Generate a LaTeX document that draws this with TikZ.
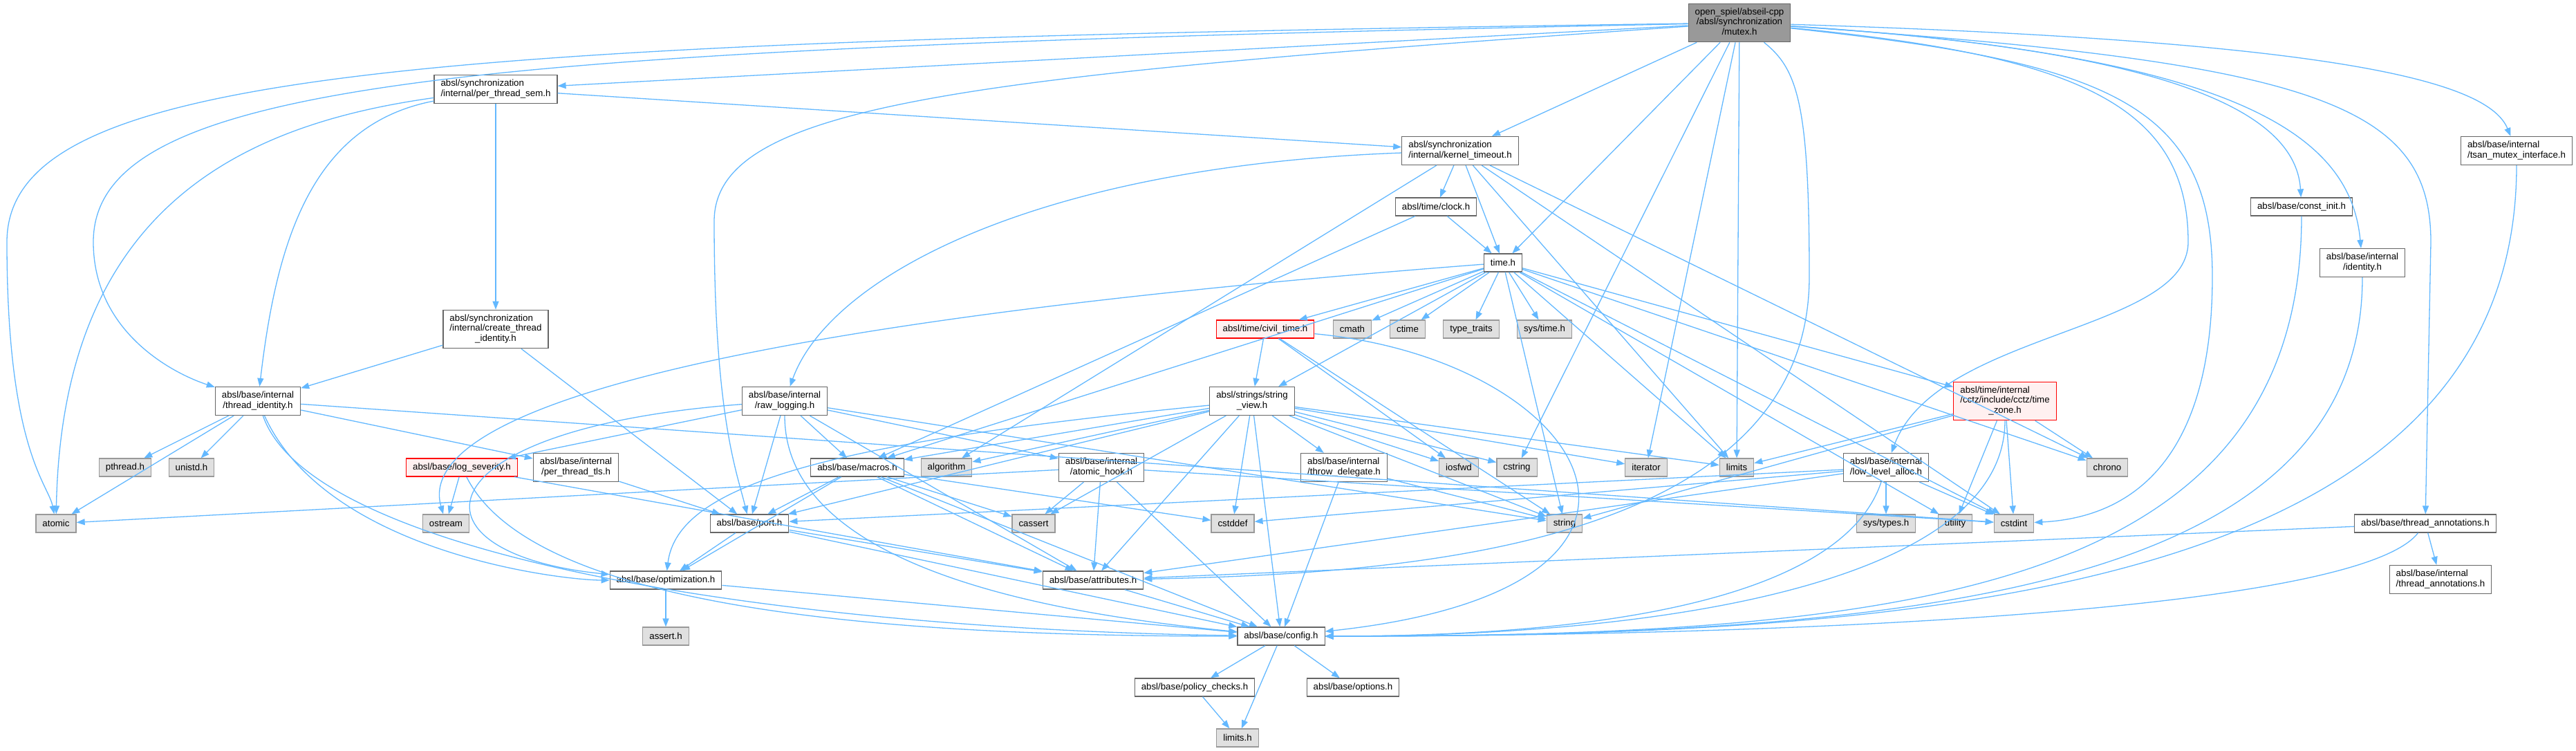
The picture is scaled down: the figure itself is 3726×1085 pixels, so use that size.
\documentclass[tikz,border=0pt]{standalone}
\usepackage{fontspec}
\setmainfont{Liberation Sans}
\usepackage{tikz}
\usetikzlibrary{arrows.meta}

\newcommand{\twoline}[2]{\begin{tabular}{@{}l@{}}#1\\\multicolumn{1}{@{}c@{}}{#2}\end{tabular}}
\newcommand{\threeline}[3]{\begin{tabular}{@{}l@{}}#1\\#2\\\multicolumn{1}{@{}c@{}}{#3}\end{tabular}}

\definecolor{edgeblue}{HTML}{63B8FF}
\definecolor{sysgray}{HTML}{E0E0E0}
\definecolor{rootgray}{HTML}{999999}
\definecolor{boxline}{HTML}{666666}
\definecolor{redfill}{HTML}{FFF0F0}

\begin{document}
\begin{tikzpicture}[x=1pt, y=-1pt, font=\fontsize{13.3}{14.5}\selectfont,
  box/.style={draw=boxline, fill=white, line width=1.2pt, inner xsep=9.5pt, inner ysep=6pt, minimum height=26pt},
  sysbox/.style={box, draw=rootgray, fill=sysgray},
  redbox/.style={box, draw=red, fill=redfill},
  rootbox/.style={box, fill=rootgray},
  arr/.style={-{Triangle[length=12pt, width=9pt]}, draw=edgeblue, line width=1.3pt}]
\useasboundingbox (0,0) rectangle (3726,1085);
\node[rootbox] (mutex) at (2516,33) {\begin{tabular}{@{}c@{}}open\_spiel/abseil-cpp\\/absl/synchronization\\/mutex.h\end{tabular}};
\node[box] (pts) at (717,129) {\twoline{absl/synchronization}{/internal/per\_thread\_sem.h}};
\node[box] (kto) at (2112,218) {\twoline{absl/synchronization}{/internal/kernel\_timeout.h}};
\node[box] (clock) at (2077,299) {absl/time/clock.h};
\node[box] (timeh) at (2174,380) {time.h};
\node[box] (constinit) at (3329,299) {absl/base/const\_init.h};
\node[box] (identity) at (3417,380) {\twoline{absl/base/internal}{/identity.h}};
\node[box] (tsan) at (3640,218) {\twoline{absl/base/internal}{/tsan\_mutex\_interface.h}};
\node[box] (tid) at (373,580) {\twoline{absl/base/internal}{/thread\_identity.h}};
\node[box] (cti) at (717,476) {\threeline{absl/synchronization}{/internal/create\_thread}{\_identity.h}};
\node[sysbox] (pthread) at (181,676) {pthread.h};
\node[sysbox] (unistd) at (277,676) {unistd.h};
\node[sysbox] (atomic) at (81,757) {atomic};
\node[redbox] (logsev) at (668,676) {absl/base/log\_severity.h};
\node[box] (tls) at (833,676) {\twoline{absl/base/internal}{/per\_thread\_tls.h}};
\node[sysbox] (ostream) at (645,757) {ostream};
\node[box] (port) at (1084,757) {absl/base/port.h};
\node[box] (rawlog) at (1135,580) {\twoline{absl/base/internal}{/raw\_logging.h}};
\node[redbox] (civil) at (1830,476) {absl/time/civil\_time.h};
\node[sysbox] (cmath) at (1956,476) {cmath};
\node[sysbox] (ctime) at (2036,476) {ctime};
\node[sysbox] (typetraits) at (2128,476) {type\_traits};
\node[sysbox] (systime) at (2234,476) {sys/time.h};
\node[box] (sv) at (1811,580) {\twoline{absl/strings/string}{\_view.h}};
\node[box] (macros) at (1240,676) {absl/base/macros.h};
\node[sysbox] (algorithm) at (1369,676) {algorithm};
\node[box] (hook) at (1593,676) {\twoline{absl/base/internal}{/atomic\_hook.h}};
\node[box] (throwd) at (1944,676) {\twoline{absl/base/internal}{/throw\_delegate.h}};
\node[sysbox] (iosfwd) at (2110,676) {iosfwd};
\node[sysbox] (cstring) at (2194,676) {cstring};
\node[sysbox] (iterator) at (2381,676) {iterator};
\node[sysbox] (limits) at (2512,676) {limits};
\node[redbox] (tz) at (2900,580) {\threeline{absl/time/internal}{/cctz/include/cctz/time}{\_zone.h}};
\node[sysbox] (chrono) at (3048,676) {chrono};
\node[box] (lla) at (2728,676) {\twoline{absl/base/internal}{/low\_level\_alloc.h}};
\node[sysbox] (cassert) at (1495,757) {cassert};
\node[sysbox] (cstddef) at (1783,757) {cstddef};
\node[sysbox] (string) at (2263,757) {string};
\node[sysbox] (systypes) at (2728,757) {sys/types.h};
\node[sysbox] (utility) at (2828,757) {utility};
\node[sysbox] (cstdint) at (2913,757) {cstdint};
\node[box] (ta) at (3508,757) {absl/base/thread\_annotations.h};
\node[box] (ita) at (3530,838) {\twoline{absl/base/internal}{/thread\_annotations.h}};
\node[box] (opt) at (963,839) {absl/base/optimization.h};
\node[sysbox] (asserth) at (963,920) {assert.h};
\node[box] (attr) at (1581,839) {absl/base/attributes.h};
\node[box] (config) at (1853,920) {absl/base/config.h};
\node[box] (policy) at (1728,994) {absl/base/policy\_checks.h};
\node[box] (options) at (1957,994) {absl/base/options.h};
\node[sysbox] (limitsh) at (1790,1067) {limits.h};
\foreach \u/\v in {mutex/pts, mutex/kto, mutex/timeh, mutex/limits, mutex/iterator, mutex/cstring,
  pts/cti, pts/kto, cti/tid, cti/port, tid/pthread, tid/unistd, tid/atomic, tid/tls, tid/cstdint,
  tls/port, logsev/ostream, logsev/attr, rawlog/logsev, rawlog/port, rawlog/macros, rawlog/hook,
  rawlog/attr, rawlog/string, hook/atomic, hook/cassert, hook/cstdint, hook/attr, hook/config,
  macros/cassert, macros/cstddef, macros/attr, macros/config, macros/opt, macros/port,
  port/attr, port/config, port/opt, opt/asserth, opt/config, attr/config, config/policy,
  config/options, config/limitsh, policy/limitsh, kto/algorithm, kto/clock, kto/timeh, kto/limits,
  kto/cstdint, kto/chrono, clock/macros, clock/timeh, timeh/civil, timeh/cmath, timeh/ctime,
  timeh/typetraits, timeh/systime, timeh/sv, timeh/macros, timeh/limits, timeh/string,
  timeh/utility, timeh/cstdint, timeh/chrono, timeh/tz, civil/sv, civil/iosfwd, civil/string,
  sv/algorithm, sv/cassert, sv/cstddef, sv/cstring, sv/iosfwd, sv/iterator, sv/limits, sv/string,
  sv/attr, sv/config, sv/throwd, sv/macros, sv/port, throwd/string, throwd/config, tz/chrono,
  tz/cstdint, tz/limits, tz/string, tz/utility, lla/cstddef, lla/cstdint, lla/systypes, lla/attr,
  lla/port, ta/attr, ta/ita} \draw[arr] (\u) -- (\v);
\draw[arr] (mutex) .. controls (600,60) and (10,100) .. (10,350) .. controls (10,650) and (70,700) .. (atomic);
\draw[arr] (mutex) .. controls (700,70) and (135,110) .. (135,350) .. controls (135,480) and (250,540) .. (tid);
\draw[arr] (mutex) .. controls (1400,110) and (1033,150) .. (1033,320) .. controls (1033,600) and (1065,680) .. (port);
\draw[arr] (mutex) .. controls (3400,60) and (3600,120) .. (tsan);
\draw[arr] (mutex) .. controls (3350,90) and (3516,150) .. (3516,350) -- (ta);
\draw[arr] (mutex) .. controls (3250,80) and (3400,200) .. (identity);
\draw[arr] (mutex) .. controls (3100,70) and (3320,150) .. (constinit);
\draw[arr] (mutex) .. controls (3000,80) and (3165,150) .. (3165,350) .. controls (3165,480) and (2800,480) .. (lla);
\draw[arr] (mutex) .. controls (3050,90) and (3200,150) .. (3200,400) .. controls (3200,700) and (3050,750) .. (cstdint);
\draw[arr] (mutex) .. controls (2600,100) and (2617,150) .. (2617,400) .. controls (2617,800) and (2000,830) .. (attr);
\draw[arr] (pts) .. controls (350,180) and (90,300) .. (atomic);
\draw[arr] (pts) .. controls (450,180) and (400,350) .. (tid);
\draw[arr] (tid) .. controls +(100,220) and +(-150,0) .. (opt);
\draw[arr] (tid) .. controls +(80,230) and +(-700,-10) .. (config);
\draw[arr] (logsev) .. controls +(100,200) and +(-600,0) .. (config);
\draw[arr] (rawlog) .. controls (600,620) and (580,800) .. (opt);
\draw[arr] (rawlog) .. controls +(0,250) and +(-300,-30) .. (config);
\draw[arr] (sv) .. controls (1200,640) and (980,700) .. (opt);
\draw[arr] (timeh) .. controls (1000,470) and (600,600) .. (ostream);
\draw[arr] (kto) .. controls (1500,240) and (1200,400) .. (rawlog);
\draw[arr] (civil) .. controls (2300,520) and (2500,850) .. (config);
\draw[arr] (tz) .. controls +(0,250) and +(600,0) .. (config);
\draw[arr] (lla) .. controls +(-60,180) and +(500,0) .. (config);
\draw[arr] (ta) .. controls +(-100,130) and +(700,0) .. (config);
\draw[arr] (constinit) .. controls +(0,560) and +(900,0) .. (config);
\draw[arr] (identity) .. controls +(0,480) and +(900,0) .. (config);
\draw[arr] (tsan) .. controls +(0,650) and +(900,0) .. (config);
\end{tikzpicture}
\end{document}
